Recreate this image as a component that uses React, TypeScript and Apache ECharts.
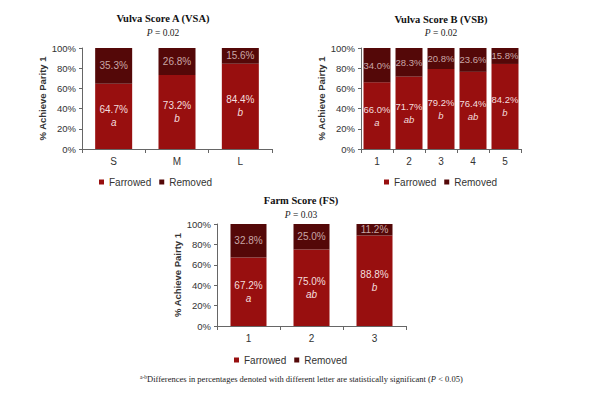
import React, { useEffect, useRef } from "react";
import * as echarts from "echarts";

const vsaCats = ["S", "M", "L"];
const vsaFarrowed = [64.7, 73.2, 84.4];
const vsaRemoved = [35.3, 26.8, 15.6];
const vsaLetters = ["a", "b", "b"];

const vsbCats = ["1", "2", "3", "4", "5"];
const vsbFarrowed = [66.0, 71.7, 79.2, 76.4, 84.2];
const vsbRemoved = [34.0, 28.3, 20.8, 23.6, 15.8];
const vsbLetters = ["a", "ab", "b", "ab", "b"];

const fsCats = ["1", "2", "3"];
const fsFarrowed = [67.2, 75.0, 88.8];
const fsRemoved = [32.8, 25.0, 11.2];
const fsLetters = ["a", "ab", "b"];

const yTicks = [0, 20, 40, 60, 80, 100];

const FARROWED = "#980f0f";
const REMOVED = "#540808";
const SANS = "Liberation Sans";
const SERIF = "Liberation Serif";

export default function App() {
  const ref = useRef<HTMLDivElement>(null);
  useEffect(() => {
    if (!ref.current) return;
    const chart = echarts.init(ref.current, null, { renderer: "svg" });

    const grids = [
      { left: 82, top: 48, width: 190, height: 101 },
      { left: 361, top: 48, width: 160, height: 101 },
      { left: 217, top: 224, width: 189, height: 102 },
    ];
    const cats = [vsaCats, vsbCats, fsCats];
    const farrowed = [vsaFarrowed, vsbFarrowed, fsFarrowed];
    const removed = [vsaRemoved, vsbRemoved, fsRemoved];
    const letters = [vsaLetters, vsbLetters, fsLetters];
    const yNames = ["% Achieve Parity 1", "% Achieve Pairty 1", "% Achieve Pairty 1"];
    const barWidths = [37, 27, 36];
    const labelSizes = [10, 9.5, 10];
    const nameGaps = [34, 35, 34];

    const axisLineStyle = { color: "#666", width: 1 };

    const xAxis = cats.map((c, i) => ({
      type: "category",
      gridIndex: i,
      data: c,
      axisLine: { lineStyle: axisLineStyle },
      axisTick: { show: true, length: 4, lineStyle: axisLineStyle },
      axisLabel: { color: "#333", fontFamily: SANS, fontSize: 10, margin: 7 },
    }));
    const yAxis = cats.map((_, i) => ({
      type: "value",
      gridIndex: i,
      min: yTicks[0],
      max: yTicks[yTicks.length - 1],
      interval: yTicks[1] - yTicks[0],
      name: yNames[i],
      nameLocation: "middle",
      nameGap: nameGaps[i],
      nameTextStyle: { color: "#333", fontFamily: SANS, fontSize: 9.5, fontWeight: "bold" },
      axisLine: { show: true, lineStyle: axisLineStyle },
      axisTick: { show: true, length: 3, lineStyle: axisLineStyle },
      splitLine: { show: false },
      axisLabel: { color: "#333", fontFamily: SANS, fontSize: 9.5, margin: 6, formatter: "{value}%" },
    }));

    const series: any[] = [];
    cats.forEach((_, i) => {
      series.push({
        name: "Farrowed",
        type: "bar",
        stack: "s" + i,
        xAxisIndex: i,
        yAxisIndex: i,
        barWidth: barWidths[i],
        data: farrowed[i],
        itemStyle: { color: FARROWED },
        label: {
          show: true,
          position: "inside",
          formatter: (p: any) => `{v|${p.value.toFixed(1)}%}\n{l|${letters[i][p.dataIndex]}}`,
          rich: {
            v: { color: "#f3dede", fontFamily: SANS, fontSize: labelSizes[i], lineHeight: 13 },
            l: { color: "#f3dede", fontFamily: SANS, fontSize: labelSizes[i], fontStyle: "italic", lineHeight: 13 },
          },
        },
      });
      series.push({
        name: "Removed",
        type: "bar",
        stack: "s" + i,
        xAxisIndex: i,
        yAxisIndex: i,
        barWidth: barWidths[i],
        data: removed[i],
        itemStyle: { color: REMOVED },
        label: {
          show: true,
          position: "inside",
          formatter: (p: any) => `${p.value.toFixed(1)}%`,
          color: "#c9a6a6",
          fontFamily: SANS,
          fontSize: labelSizes[i],
        },
      });
    });

    const legendBase = {
      data: ["Farrowed", "Removed"],
      icon: "rect",
      itemWidth: 5,
      itemHeight: 5,
      itemGap: 8,
      textStyle: { color: "#333", fontFamily: SANS, fontSize: 10 },
      selectedMode: false,
    };

    const titles = [
      { text: "Vulva Score A (VSA)", p: "0.02", x: 163, y: 18, py: 33 },
      { text: "Vulva Score B (VSB)", p: "0.02", x: 441, y: 19, py: 33 },
      { text: "Farm Score (FS)", p: "0.03", x: 301, y: 200, py: 215 },
    ];
    const graphics: any[] = [];
    titles.forEach((t) => {
      graphics.push({
        type: "text",
        x: t.x,
        y: t.y,
        style: {
          text: t.text,
          fill: "#111",
          font: `bold 10.5px "${SERIF}"`,
          align: "center",
          verticalAlign: "middle",
        },
      });
      graphics.push({
        type: "text",
        x: t.x,
        y: t.py,
        style: {
          text: `{i|P} = ${t.p}`,
          fill: "#222",
          font: `9.5px "${SERIF}"`,
          align: "center",
          verticalAlign: "middle",
          rich: { i: { fontStyle: "italic", fontFamily: SERIF, fontSize: 9.5, fill: "#222" } },
        },
      });
    });
    graphics.push({
      type: "text",
      x: 140,
      y: 379,
      style: {
        text: "{s|a-b}Differences in percentages denoted with different letter are statistically significant ({i|P} < 0.05)",
        fill: "#222",
        font: `8.5px "${SERIF}"`,
        align: "left",
        verticalAlign: "middle",
        rich: {
          s: { fontFamily: SERIF, fontSize: 5.5, fill: "#222", verticalAlign: "top", lineHeight: 11 },
          i: { fontFamily: SERIF, fontSize: 8.5, fontStyle: "italic", fill: "#222" },
        },
      },
    });

    chart.setOption({
      animation: false,
      backgroundColor: "#fff",
      grid: grids,
      xAxis,
      yAxis,
      series,
      legend: [
        { ...legendBase, left: 94, top: 172 },
        { ...legendBase, left: 379, top: 172 },
        { ...legendBase, left: 229, top: 350 },
      ],
      graphic: graphics,
    });
    return () => chart.dispose();
  }, []);
  return (
    <div
      ref={ref}
      style={{ position: "fixed", left: 0, top: 0, width: 602, height: 395, background: "#fff" }}
    />
  );
}
